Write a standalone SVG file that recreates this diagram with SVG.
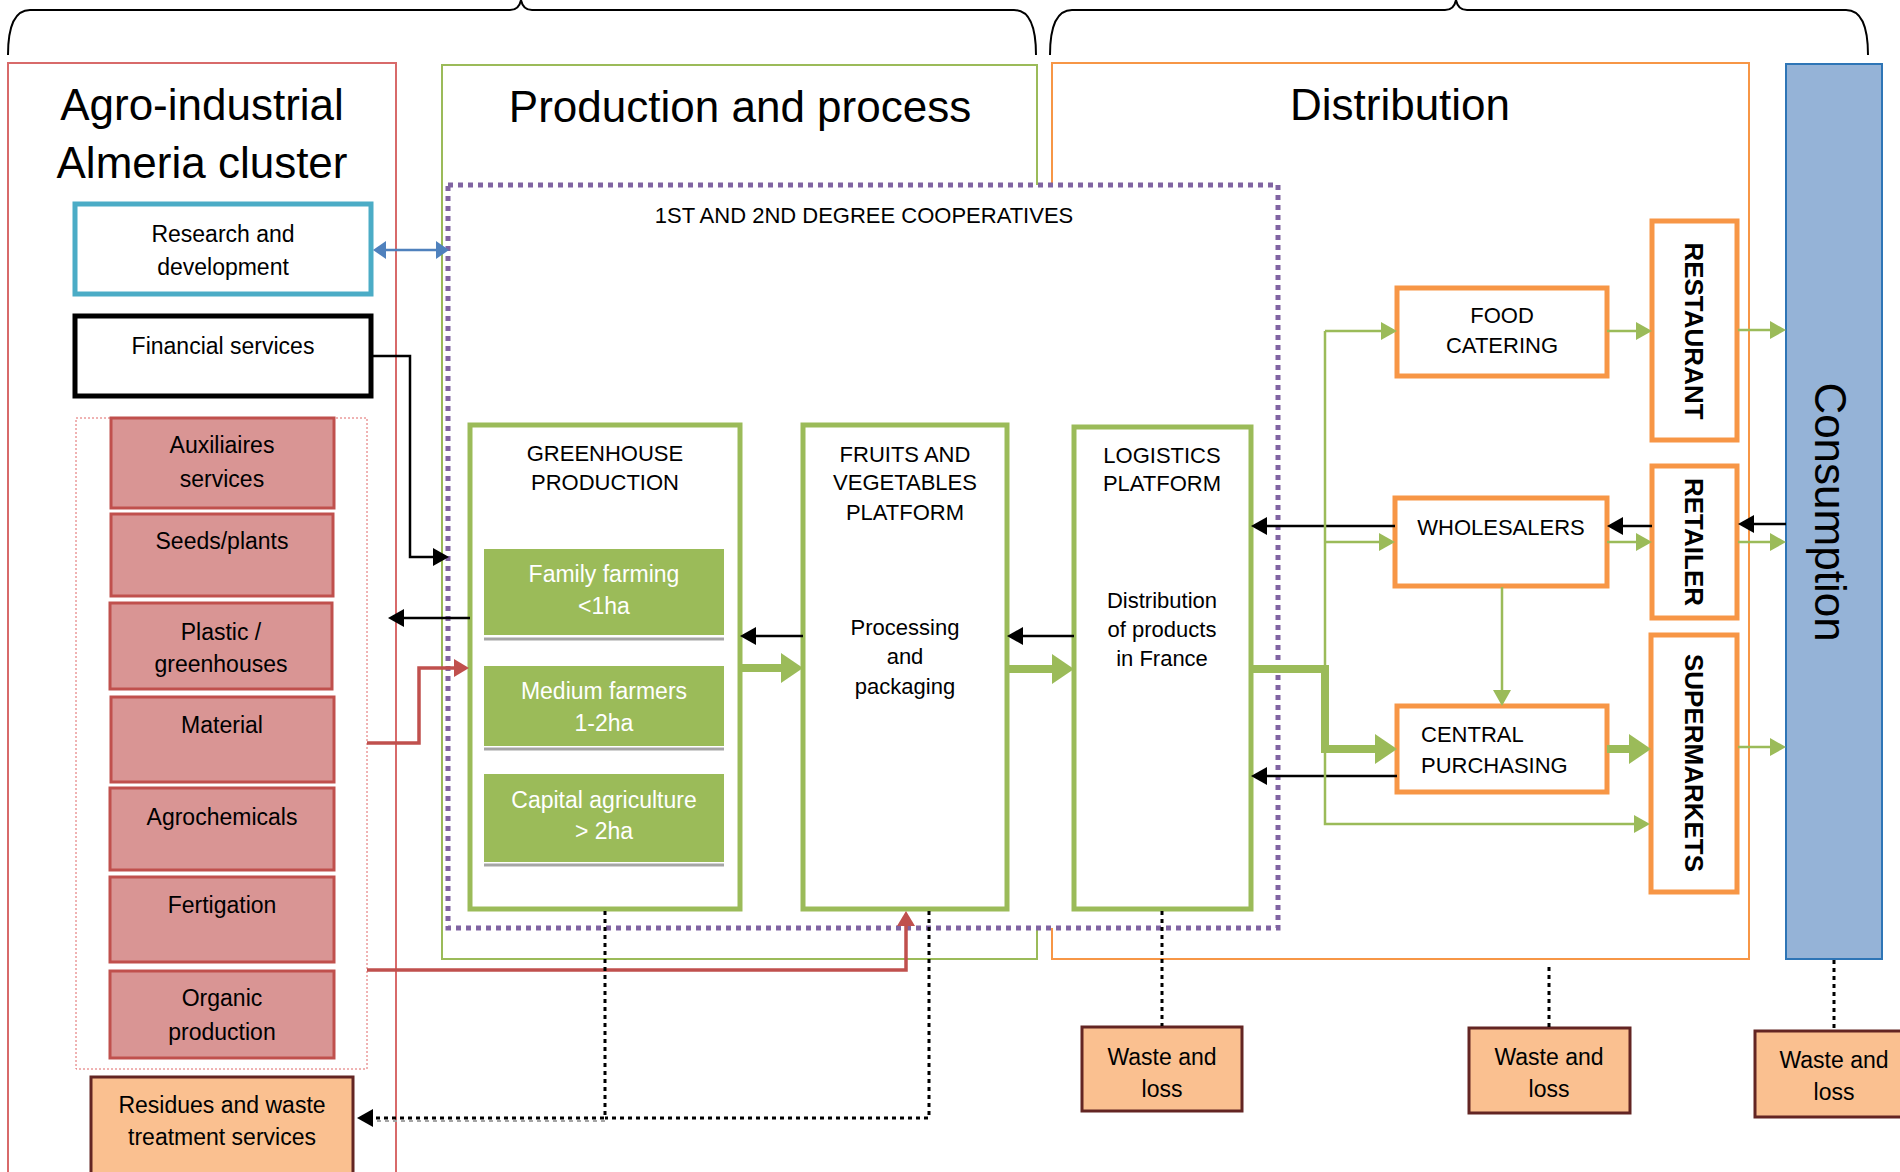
<svg xmlns="http://www.w3.org/2000/svg" width="1900" height="1172" viewBox="0 0 1900 1172">
<defs>
<style>
text{font-family:"Liberation Sans",Arial,sans-serif;fill:#000}
.title{font-size:44px;text-anchor:middle}
.lbl{font-size:23px;text-anchor:middle}
.cap{font-size:22px;text-anchor:middle}
.wt{font-size:23px;text-anchor:middle;fill:#fff}
.vb{font-size:26px;font-weight:bold;text-anchor:middle}
.sup{fill:#D99594;stroke:#C0504D;stroke-width:3}
.gbox{fill:#fff;stroke:#9BBB59;stroke-width:5}
.gsub{fill:#9BBB59;stroke:none}
.obox{fill:#fff;stroke:#F79646;stroke-width:5}
.waste{fill:#FAC090;stroke:#632523;stroke-width:3}
.blk{fill:none;stroke:#000;stroke-width:2.5}
.gthin{fill:none;stroke:#9BBB59;stroke-width:2.5}
.gthick{fill:none;stroke:#9BBB59;stroke-width:8}
.red{fill:none;stroke:#C0504D;stroke-width:3.5}
.dot{fill:none;stroke:#000;stroke-width:3;stroke-dasharray:4 4}
</style>
<marker id="mBlk" markerUnits="userSpaceOnUse" markerWidth="16" markerHeight="18" refX="0" refY="9" orient="auto"><path d="M0,0 L16,9 L0,18 Z" fill="#000"/></marker>
<marker id="mGt" markerUnits="userSpaceOnUse" markerWidth="16" markerHeight="18" refX="0" refY="9" orient="auto"><path d="M0,0 L16,9 L0,18 Z" fill="#9BBB59"/></marker>
<marker id="mGk" markerUnits="userSpaceOnUse" markerWidth="22" markerHeight="30" refX="0" refY="15" orient="auto"><path d="M0,0 L22,15 L0,30 Z" fill="#9BBB59"/></marker>
<marker id="mRed" markerUnits="userSpaceOnUse" markerWidth="15" markerHeight="18" refX="0" refY="9" orient="auto"><path d="M0,0 L15,9 L0,18 Z" fill="#C0504D"/></marker>
<marker id="mBlue" markerUnits="userSpaceOnUse" markerWidth="13" markerHeight="18" refX="0" refY="9" orient="auto-start-reverse"><path d="M0,0 L13,9 L0,18 Z" fill="#4F81BD"/></marker>
</defs>
<rect width="1900" height="1172" fill="#fff"/>

<g id="braces" fill="none" stroke="#000" stroke-width="2">
<path d="M8,55 Q8,10 30,10 H510 Q519,10 521,0 Q523,10 532,10 H1014 Q1036,10 1036,55"/>
<path d="M1050,55 Q1050,10 1072,10 H1445 Q1454,10 1456,0 Q1458,10 1467,10 H1846 Q1868,10 1868,55"/>
</g>

<g id="cluster">
<rect x="8" y="63" width="388" height="1130" fill="#fff" stroke="#D86A6A" stroke-width="2"/>
<text class="title" x="202" y="120">Agro-industrial</text>
<text class="title" x="202" y="178">Almeria cluster</text>
</g>
<g id="production">
<rect x="442" y="65" width="595" height="894" fill="#fff" stroke="#9BBB59" stroke-width="2"/>
<text class="title" x="740" y="122">Production and process</text>
</g>
<g id="distribution">
<rect x="1052" y="63" width="697" height="896" fill="#fff" stroke="#F79646" stroke-width="2"/>
<text class="title" x="1400" y="120">Distribution</text>
</g>
<g id="consumption">
<rect x="1786" y="64" width="96" height="895" fill="#95B3D7" stroke="#2E75B6" stroke-width="2"/>
<text font-size="44" text-anchor="middle" transform="translate(1815,512) rotate(90)">Consumption</text>
</g>

<g id="cooperatives">
<rect x="448" y="185" width="830" height="743" fill="#fff" stroke="#8064A2" stroke-width="5" stroke-dasharray="5 5"/>
<text class="cap" x="864" y="223">1ST AND 2ND DEGREE COOPERATIVES</text>
</g>

<g id="research">
<rect x="75" y="204" width="296" height="90" fill="#fff" stroke="#4BACC6" stroke-width="5"/>
<text class="lbl" x="223" y="242">Research and</text>
<text class="lbl" x="223" y="275">development</text>
</g>
<g id="financial">
<rect x="75" y="316" width="296" height="80" fill="#fff" stroke="#000" stroke-width="5"/>
<text class="lbl" x="223" y="354">Financial services</text>
</g>

<g id="suppliers">
<rect x="76" y="418" width="291" height="651" fill="none" stroke="#E06666" stroke-width="1" stroke-dasharray="2 2"/>
<g id="auxiliaires"><rect class="sup" x="111" y="418" width="223" height="90"/><text class="lbl" x="222" y="453">Auxiliaires</text><text class="lbl" x="222" y="487">services</text></g>
<g id="seeds"><rect class="sup" x="111" y="514" width="222" height="82"/><text class="lbl" x="222" y="549">Seeds/plants</text></g>
<g id="plastic"><rect class="sup" x="110" y="603" width="222" height="86"/><text class="lbl" x="221" y="640">Plastic /</text><text class="lbl" x="221" y="672">greenhouses</text></g>
<g id="material"><rect class="sup" x="111" y="697" width="223" height="85"/><text class="lbl" x="222" y="733">Material</text></g>
<g id="agrochemicals"><rect class="sup" x="110" y="788" width="224" height="82"/><text class="lbl" x="222" y="825">Agrochemicals</text></g>
<g id="fertigation"><rect class="sup" x="110" y="877" width="224" height="85"/><text class="lbl" x="222" y="913">Fertigation</text></g>
<g id="organic"><rect class="sup" x="110" y="971" width="224" height="87"/><text class="lbl" x="222" y="1006">Organic</text><text class="lbl" x="222" y="1040">production</text></g>
</g>

<g id="residues">
<rect class="waste" x="91" y="1077" width="262" height="120"/>
<text class="lbl" x="222" y="1113">Residues and waste</text>
<text class="lbl" x="222" y="1145">treatment services</text>
</g>

<g id="greenhouse">
<rect class="gbox" x="470" y="425" width="270" height="484"/>
<text class="cap" x="605" y="461">GREENHOUSE</text>
<text class="cap" x="605" y="490">PRODUCTION</text>
<rect class="gsub" x="484" y="549" width="240" height="86"/>
<line x1="484" y1="639" x2="724" y2="639" stroke="#A5A5A5" stroke-width="3"/>
<text class="wt" x="604" y="582">Family farming</text>
<text class="wt" x="604" y="614">&lt;1ha</text>
<rect class="gsub" x="484" y="666" width="240" height="80"/>
<line x1="484" y1="749" x2="724" y2="749" stroke="#A5A5A5" stroke-width="3"/>
<text class="wt" x="604" y="699">Medium farmers</text>
<text class="wt" x="604" y="731">1-2ha</text>
<rect class="gsub" x="484" y="774" width="240" height="88"/>
<line x1="484" y1="865" x2="724" y2="865" stroke="#A5A5A5" stroke-width="3"/>
<text class="wt" x="604" y="808">Capital agriculture</text>
<text class="wt" x="604" y="839">&gt; 2ha</text>
</g>

<g id="fv-platform">
<rect class="gbox" x="803" y="425" width="204" height="484"/>
<text class="cap" x="905" y="462">FRUITS AND</text>
<text class="cap" x="905" y="490">VEGETABLES</text>
<text class="cap" x="905" y="520">PLATFORM</text>
<text class="cap" x="905" y="635">Processing</text>
<text class="cap" x="905" y="664">and</text>
<text class="cap" x="905" y="694">packaging</text>
</g>

<g id="logistics">
<rect class="gbox" x="1074" y="427" width="177" height="482"/>
<text class="cap" x="1162" y="463">LOGISTICS</text>
<text class="cap" x="1162" y="491">PLATFORM</text>
<text class="cap" x="1162" y="608">Distribution</text>
<text class="cap" x="1162" y="637">of products</text>
<text class="cap" x="1162" y="666">in France</text>
</g>

<g id="food-catering">
<rect class="obox" x="1397" y="288" width="210" height="88"/>
<text class="cap" x="1502" y="323">FOOD</text>
<text class="cap" x="1502" y="353">CATERING</text>
</g>
<g id="wholesalers">
<rect class="obox" x="1395" y="498" width="212" height="88"/>
<text class="cap" x="1501" y="535">WHOLESALERS</text>
</g>
<g id="central-purchasing">
<rect class="obox" x="1397" y="706" width="210" height="86"/>
<text class="cap" x="1421" y="742" style="text-anchor:start">CENTRAL</text>
<text class="cap" x="1421" y="773" style="text-anchor:start">PURCHASING</text>
</g>

<g id="restaurant">
<rect class="obox" x="1652" y="221" width="85" height="219"/>
<text class="vb" transform="translate(1685,331) rotate(90)">RESTAURANT</text>
</g>
<g id="retailer">
<rect class="obox" x="1652" y="466" width="85" height="152"/>
<text class="vb" transform="translate(1685,542) rotate(90)">RETAILER</text>
</g>
<g id="supermarkets">
<rect class="obox" x="1651" y="635" width="86" height="257"/>
<text class="vb" transform="translate(1685,763) rotate(90)">SUPERMARKETS</text>
</g>

<g id="waste1"><rect class="waste" x="1082" y="1027" width="160" height="84"/><text class="lbl" x="1162" y="1065">Waste and</text><text class="lbl" x="1162" y="1097">loss</text></g>
<g id="waste2"><rect class="waste" x="1469" y="1028" width="161" height="85"/><text class="lbl" x="1549" y="1065">Waste and</text><text class="lbl" x="1549" y="1097">loss</text></g>
<g id="waste3"><rect class="waste" x="1755" y="1031" width="160" height="86"/><text class="lbl" x="1834" y="1068">Waste and</text><text class="lbl" x="1834" y="1100">loss</text></g>

<g id="connectors">
<path d="M386,250 H436" stroke="#4F81BD" stroke-width="2.5" fill="none" marker-start="url(#mBlue)" marker-end="url(#mBlue)"/>
<path class="blk" d="M371,356 H410 V557 H433" marker-end="url(#mBlk)"/>
<path class="blk" d="M470,618 H404" marker-end="url(#mBlk)"/>
<path class="red" d="M367,743 H419 V668 H454" marker-end="url(#mRed)"/>
<path class="red" d="M367,970 H906 V926" marker-end="url(#mRed)"/>
<path d="M605,1121 H368" fill="none" stroke="#A5A5A5" stroke-width="2" stroke-dasharray="4 4"/>
<path class="dot" d="M605,911 V1118 H373" marker-end="url(#mBlk)"/>
<path class="dot" d="M929,911 V1118 H605"/>
<path class="blk" d="M803,636 H756" marker-end="url(#mBlk)"/>
<path class="gthick" d="M740,668 H781" marker-end="url(#mGk)"/>
<path class="blk" d="M1074,636 H1023" marker-end="url(#mBlk)"/>
<path class="gthick" d="M1007,669 H1052" marker-end="url(#mGk)"/>
<path class="blk" d="M1395,526 H1267" marker-end="url(#mBlk)"/>
<path class="blk" d="M1397,776 H1267" marker-end="url(#mBlk)"/>
<path class="gthick" d="M1251,669 H1325 V749 H1375" marker-end="url(#mGk)"/>
<path class="gthin" d="M1325,331 V824 H1634" marker-end="url(#mGt)"/>
<path class="gthin" d="M1325,331 H1381" marker-end="url(#mGt)"/>
<path class="gthin" d="M1325,542 H1379" marker-end="url(#mGt)"/>
<path class="gthin" d="M1502,587 V690" marker-end="url(#mGt)"/>
<path class="gthin" d="M1607,331 H1636" marker-end="url(#mGt)"/>
<path class="gthin" d="M1607,542 H1636" marker-end="url(#mGt)"/>
<path class="blk" d="M1652,526 H1623" marker-end="url(#mBlk)"/>
<path class="gthick" d="M1607,749 H1629" marker-end="url(#mGk)"/>
<path class="gthin" d="M1738,330 H1770" marker-end="url(#mGt)"/>
<path class="gthin" d="M1738,542 H1770" marker-end="url(#mGt)"/>
<path class="gthin" d="M1738,747 H1770" marker-end="url(#mGt)"/>
<path class="blk" d="M1786,524 H1754" marker-end="url(#mBlk)"/>
<path class="dot" d="M1162,911 V1026"/>
<path class="dot" d="M1549,967 V1027"/>
<path class="dot" d="M1834,960 V1030"/>
</g>
</svg>
